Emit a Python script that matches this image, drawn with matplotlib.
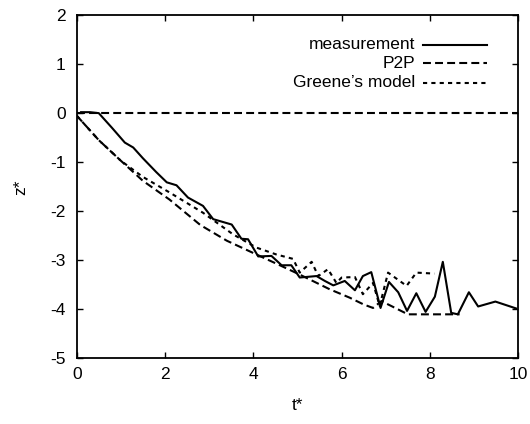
import matplotlib
matplotlib.use("Agg")
from matplotlib import pyplot as plt

plt.rcParams['font.family'] = ['Liberation Sans', 'DejaVu Sans']
plt.rcParams['axes.unicode_minus'] = False

# measurement
t_med = [0.1, 0.3, 0.5, 0.8, 1.09, 1.28, 1.5, 1.8, 2.04, 2.26, 2.52, 2.86, 3.09, 3.51,
         3.73, 3.88, 4.11, 4.41, 4.64, 4.86, 5.05, 5.43, 5.62, 5.81, 6.07, 6.3, 6.48,
         6.67, 6.88, 7.07, 7.28, 7.48, 7.69, 7.9, 8.11, 8.29, 8.48, 8.63, 8.88, 9.09,
         9.48, 9.95]
z_med = [0.02, 0.02, 0.0, -0.3, -0.6, -0.7, -0.92, -1.2, -1.41, -1.47, -1.72, -1.89,
         -2.16, -2.27, -2.56, -2.57, -2.92, -2.91, -3.10, -3.10, -3.35, -3.32, -3.42,
         -3.51, -3.42, -3.61, -3.32, -3.24, -3.97, -3.44, -3.65, -4.03, -3.67, -4.05,
         -3.74, -3.03, -4.07, -4.10, -3.65, -3.94, -3.84, -3.98]

# P2P
t_p2p = [0.0, 0.5, 1.0, 1.5, 2.1, 2.8, 3.4, 4.07, 4.6, 5.05, 5.73, 6.18, 6.5, 6.71,
         6.9, 7.5, 8.67]
z_p2p = [-0.05, -0.55, -0.97, -1.38, -1.76, -2.28, -2.6, -2.88, -3.1, -3.29, -3.59,
         -3.76, -3.9, -3.97, -3.83, -4.1, -4.1]

# Greene's model
t_gr = [0.0, 0.5, 1.0, 1.5, 2.11, 2.86, 3.54, 4.07, 4.52, 4.9, 5.05, 5.32, 5.47, 5.69,
        5.88, 6.0, 6.3, 6.48, 6.71, 6.86, 7.05, 7.47, 7.69, 8.1]
z_gr = [-0.05, -0.55, -0.97, -1.3, -1.62, -2.03, -2.47, -2.74, -2.88, -2.97, -3.25,
        -3.03, -3.32, -3.18, -3.46, -3.35, -3.34, -3.69, -3.46, -3.93, -3.25, -3.52,
        -3.25, -3.27]

etiquetas = ["measurement", "P2P", "Greene\u2019s model"]

lw = 1.5
fs = 12.5
estilo_p2p = (0, (3.8, 2))
estilo_gr = (0, (2, 2))

fig = plt.figure(figsize=(5.3, 4.24), dpi=100)
ax = fig.add_axes([0.1447, 0.1545, 0.8333, 0.8101])

ax.axhline(0, color='black', lw=lw, ls=estilo_p2p)
ax.plot(t_med, z_med, color='black', lw=lw, ls='-')
ax.plot(t_p2p, z_p2p, color='black', lw=lw, ls=estilo_p2p)
ax.plot(t_gr, z_gr, color='black', lw=lw, ls=estilo_gr)

# leyenda estilo gnuplot (texto alineado a la derecha)
filas_y = [0.913, 0.859, 0.803]
estilos = ['-', estilo_p2p, estilo_gr]
for etiqueta, fy, est in zip(etiquetas, filas_y, estilos):
    ax.text(0.766, fy, etiqueta, transform=ax.transAxes, ha='right', va='center',
            fontsize=fs)
    ax.plot([0.785, 0.930], [fy, fy], transform=ax.transAxes, color='black',
            lw=lw, ls=est)

ax.set_xlim(0, 10)
ax.set_ylim(-5, 2)
ax.set_xticks([0, 2, 4, 6, 8, 10])
ax.set_yticks([-5, -4, -3, -2, -1, 0, 1, 2])
ax.tick_params(direction='in', length=4.5, width=1, top=True, right=True,
               labelsize=fs)
ax.tick_params(axis='x', pad=6)
ax.tick_params(axis='y', pad=8)
for s in ax.spines.values():
    s.set_linewidth(1.3)

ax.set_xlabel("t*", fontsize=fs, labelpad=12)
ax.set_ylabel("z*", fontsize=fs, labelpad=16)

fig.savefig("out.png", dpi=100)
